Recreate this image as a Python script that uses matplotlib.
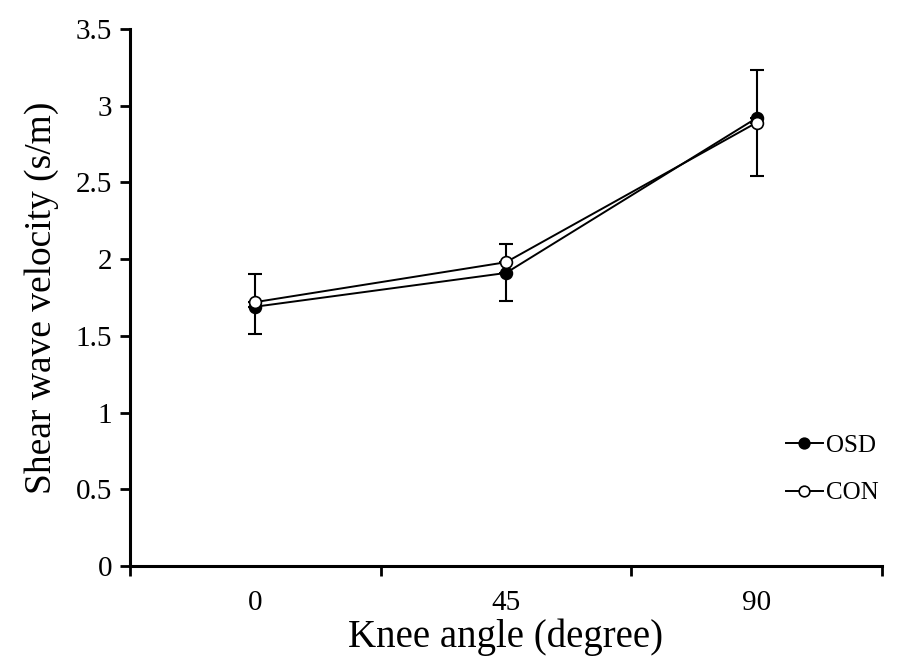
import matplotlib
matplotlib.use("Agg")
import matplotlib.pyplot as plt
import numpy as np

categories = ["0", "45", "90"]
osd = [1.69, 1.91, 2.92]
con = [1.72, 1.98, 2.89]
osd_err_low = [0.18, 0.18, 0.0]
osd_err_up = [0.0, 0.0, 0.31]
con_err_low = [0.0, 0.0, 0.35]
con_err_up = [0.18, 0.12, 0.0]
yticks = [0, 0.5, 1, 1.5, 2, 2.5, 3, 3.5]
ytick_labels = ["0", "0.5", "1", "1.5", "2", "2.5", "3", "3.5"]

plt.rcParams['font.family'] = ['Liberation Serif', 'DejaVu Serif']

fig = plt.figure(figsize=(8.97, 6.59), dpi=100)
ax = fig.add_axes([130/897, 1-566/659, (882-130)/897, (566-29)/659])

x = np.arange(len(categories))
ax.errorbar(x, osd, yerr=[osd_err_low, osd_err_up], fmt='none', ecolor='black',
            elinewidth=1.5, capsize=5, capthick=1.5, zorder=2)
ax.errorbar(x, con, yerr=[con_err_low, con_err_up], fmt='none', ecolor='black',
            elinewidth=1.5, capsize=5, capthick=1.5, zorder=2)

ax.plot(x, osd, '-o', color='black', lw=1.4, markersize=8.5,
        markerfacecolor='black', markeredgecolor='black', markeredgewidth=1.2,
        label='OSD', zorder=3)
ax.plot(x, con, '-o', color='black', lw=1.4, markersize=8.5,
        markerfacecolor='white', markeredgecolor='black', markeredgewidth=1.2,
        label='CON', zorder=4)

ax.set_xlim(-0.5, 2.5)
ax.set_ylim(0, 3.5)
ax.set_xticks([-0.5, 0.5, 1.5, 2.5])
ax.set_xticklabels([])
ax.set_xticks(x, minor=True)
ax.set_xticklabels(categories, minor=True)
ax.tick_params(axis='x', which='minor', length=0, labelsize=21, pad=17)
ax.tick_params(axis='x', which='major', direction='out', length=7, width=2)
ax.set_yticks(yticks)
ax.set_yticklabels(ytick_labels)
ax.tick_params(axis='y', direction='out', length=7, width=2, labelsize=21, pad=6)

for s in ['top', 'right']:
    ax.spines[s].set_visible(False)
for s in ['left', 'bottom']:
    ax.spines[s].set_linewidth(2.2)

ax.set_xlabel("Knee angle (degree)", fontsize=28, labelpad=2)
ax.set_ylabel("Shear wave velocity (s/m)", fontsize=27, labelpad=12)

leg = ax.legend(loc='center right', bbox_to_anchor=(1.025, 0.18), frameon=False,
                fontsize=18, handlelength=1.5, handletextpad=0.1, labelspacing=1.0,
                markerscale=0.9)

fig.savefig("out.png", dpi=100)
